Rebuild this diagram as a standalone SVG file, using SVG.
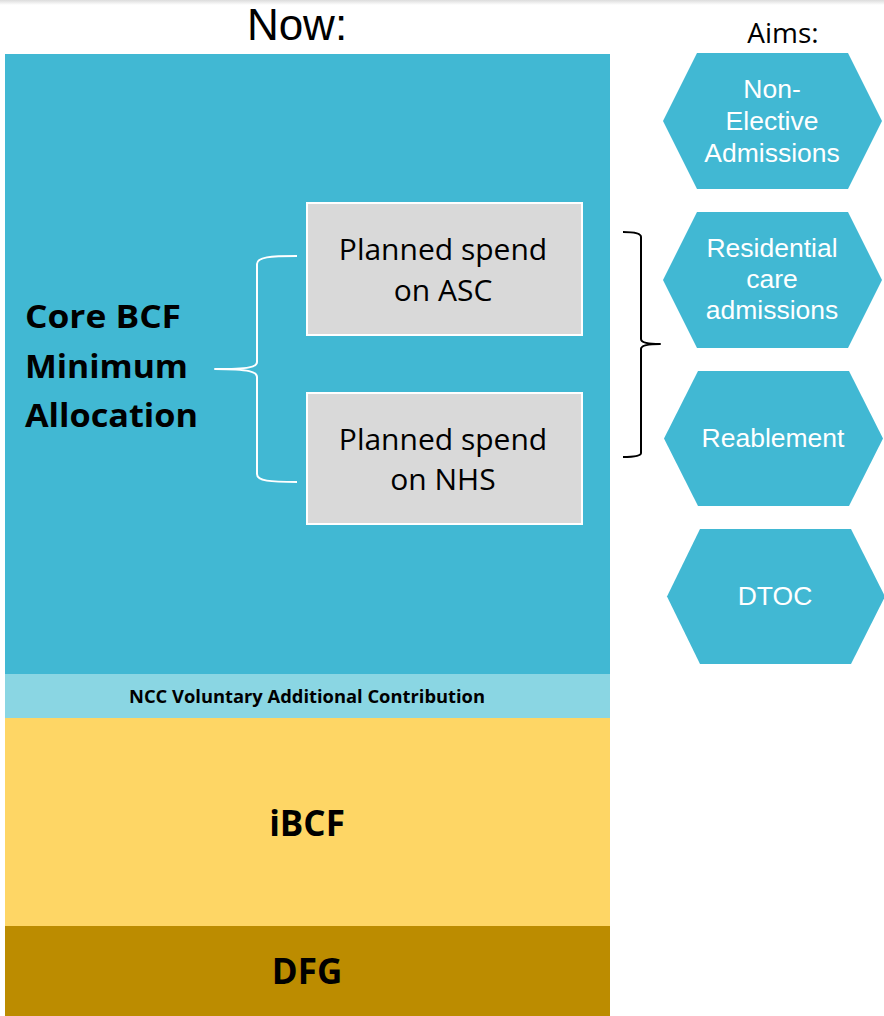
<svg xmlns="http://www.w3.org/2000/svg" width="884" height="1016" viewBox="0 0 884 1016">
  <defs>
    <linearGradient id="shadow" x1="0" y1="0" x2="0" y2="1">
      <stop offset="0" stop-color="#dcdcdc"/>
      <stop offset="1" stop-color="#ffffff"/>
    </linearGradient>
  </defs>
  <style>
    text { font-family: "Open Sans", "Noto Sans", "DejaVu Sans", sans-serif; }
    .hex { fill: #41B8D3; }
    .hext { fill: #ffffff; font-size: 26.5px; text-anchor: middle; font-family: "Liberation Sans", Arial, sans-serif; }
    .box { fill: #D9D9D9; stroke: #ffffff; stroke-width: 2; }
    .boxt { fill: #000000; font-size: 30px; text-anchor: middle; }
    .bold { font-weight: bold; fill: #000000; }
    .brace { fill: none; stroke-width: 2; stroke-linejoin: round; }
  </style>
  <rect x="0" y="0" width="884" height="1016" fill="#ffffff"/>
  <rect x="0" y="0" width="884" height="5" fill="url(#shadow)"/>

  <text x="297" y="40" font-size="44" text-anchor="middle" fill="#000" style="font-family: 'Liberation Sans', Arial, sans-serif">Now:</text>
  <text x="783" y="43" font-size="28" text-anchor="middle" fill="#000">Aims:</text>

  <g id="core-bcf">
    <rect x="5" y="54" width="605" height="620" fill="#41B8D3"/>
    <text class="bold" font-size="32" x="25" y="328" textLength="156" lengthAdjust="spacingAndGlyphs">Core BCF</text>
    <text class="bold" font-size="32" x="25" y="378" textLength="163" lengthAdjust="spacingAndGlyphs">Minimum</text>
    <text class="bold" font-size="32" x="25" y="427" textLength="173" lengthAdjust="spacingAndGlyphs">Allocation</text>
  </g>

  <g id="ncc">
    <rect x="5" y="674" width="605" height="44" fill="#8AD6E3"/>
    <text class="bold" font-size="18" x="307" y="702.5" text-anchor="middle" textLength="356" lengthAdjust="spacingAndGlyphs">NCC Voluntary Additional Contribution</text>
  </g>

  <g id="ibcf">
    <rect x="5" y="718" width="605" height="208" fill="#FED665"/>
    <text class="bold" font-size="35" x="307" y="836" text-anchor="middle">iBCF</text>
  </g>

  <g id="dfg">
    <rect x="5" y="926" width="605" height="90" fill="#BC8C00"/>
    <text class="bold" font-size="35" x="307" y="984" text-anchor="middle">DFG</text>
  </g>

  <g id="spend-asc">
    <rect class="box" x="307" y="203" width="275" height="132"/>
    <text class="boxt" x="443" y="260">Planned spend</text>
    <text class="boxt" x="443" y="301">on ASC</text>
  </g>

  <g id="spend-nhs">
    <rect class="box" x="307" y="393" width="275" height="131"/>
    <text class="boxt" x="443" y="450">Planned spend</text>
    <text class="boxt" x="443" y="490">on NHS</text>
  </g>

  <g id="aim-nonelective">
    <polygon class="hex" points="697,53 848,53 882,121 848,189 697,189 663,121"/>
    <text class="hext" x="772" y="98">Non-</text>
    <text class="hext" x="772" y="130">Elective</text>
    <text class="hext" x="772" y="162">Admissions</text>
  </g>

  <g id="aim-residential">
    <polygon class="hex" points="697,212 848,212 882,280 848,348 697,348 663,280"/>
    <text class="hext" x="772" y="257">Residential</text>
    <text class="hext" x="772" y="288">care</text>
    <text class="hext" x="772" y="319">admissions</text>
  </g>

  <g id="aim-reablement">
    <polygon class="hex" points="698,371 849,371 883,438.5 849,506 698,506 664,438.5"/>
    <text class="hext" x="773" y="447">Reablement</text>
  </g>

  <g id="aim-dtoc">
    <polygon class="hex" points="700,529 851,529 885,596.5 851,664 700,664 667,596.5"/>
    <text class="hext" x="775" y="605">DTOC</text>
  </g>

  <g id="connectors">
    <path class="brace" stroke="#ffffff" d="M297,256 C270,256 257,257 257,264 L257,362 C257,367 250,369 215,369 C250,369 257,372 257,377 L257,474 C257,481 270,482 297,482"/>
    <path class="brace" stroke="#000000" d="M623,232 C634,232 641,233 641,237 L641,339 C641,342 647,344 660,344 C647,344 641,346 641,349 L641,453 C641,456 634,457 623,457"/>
  </g>
</svg>
